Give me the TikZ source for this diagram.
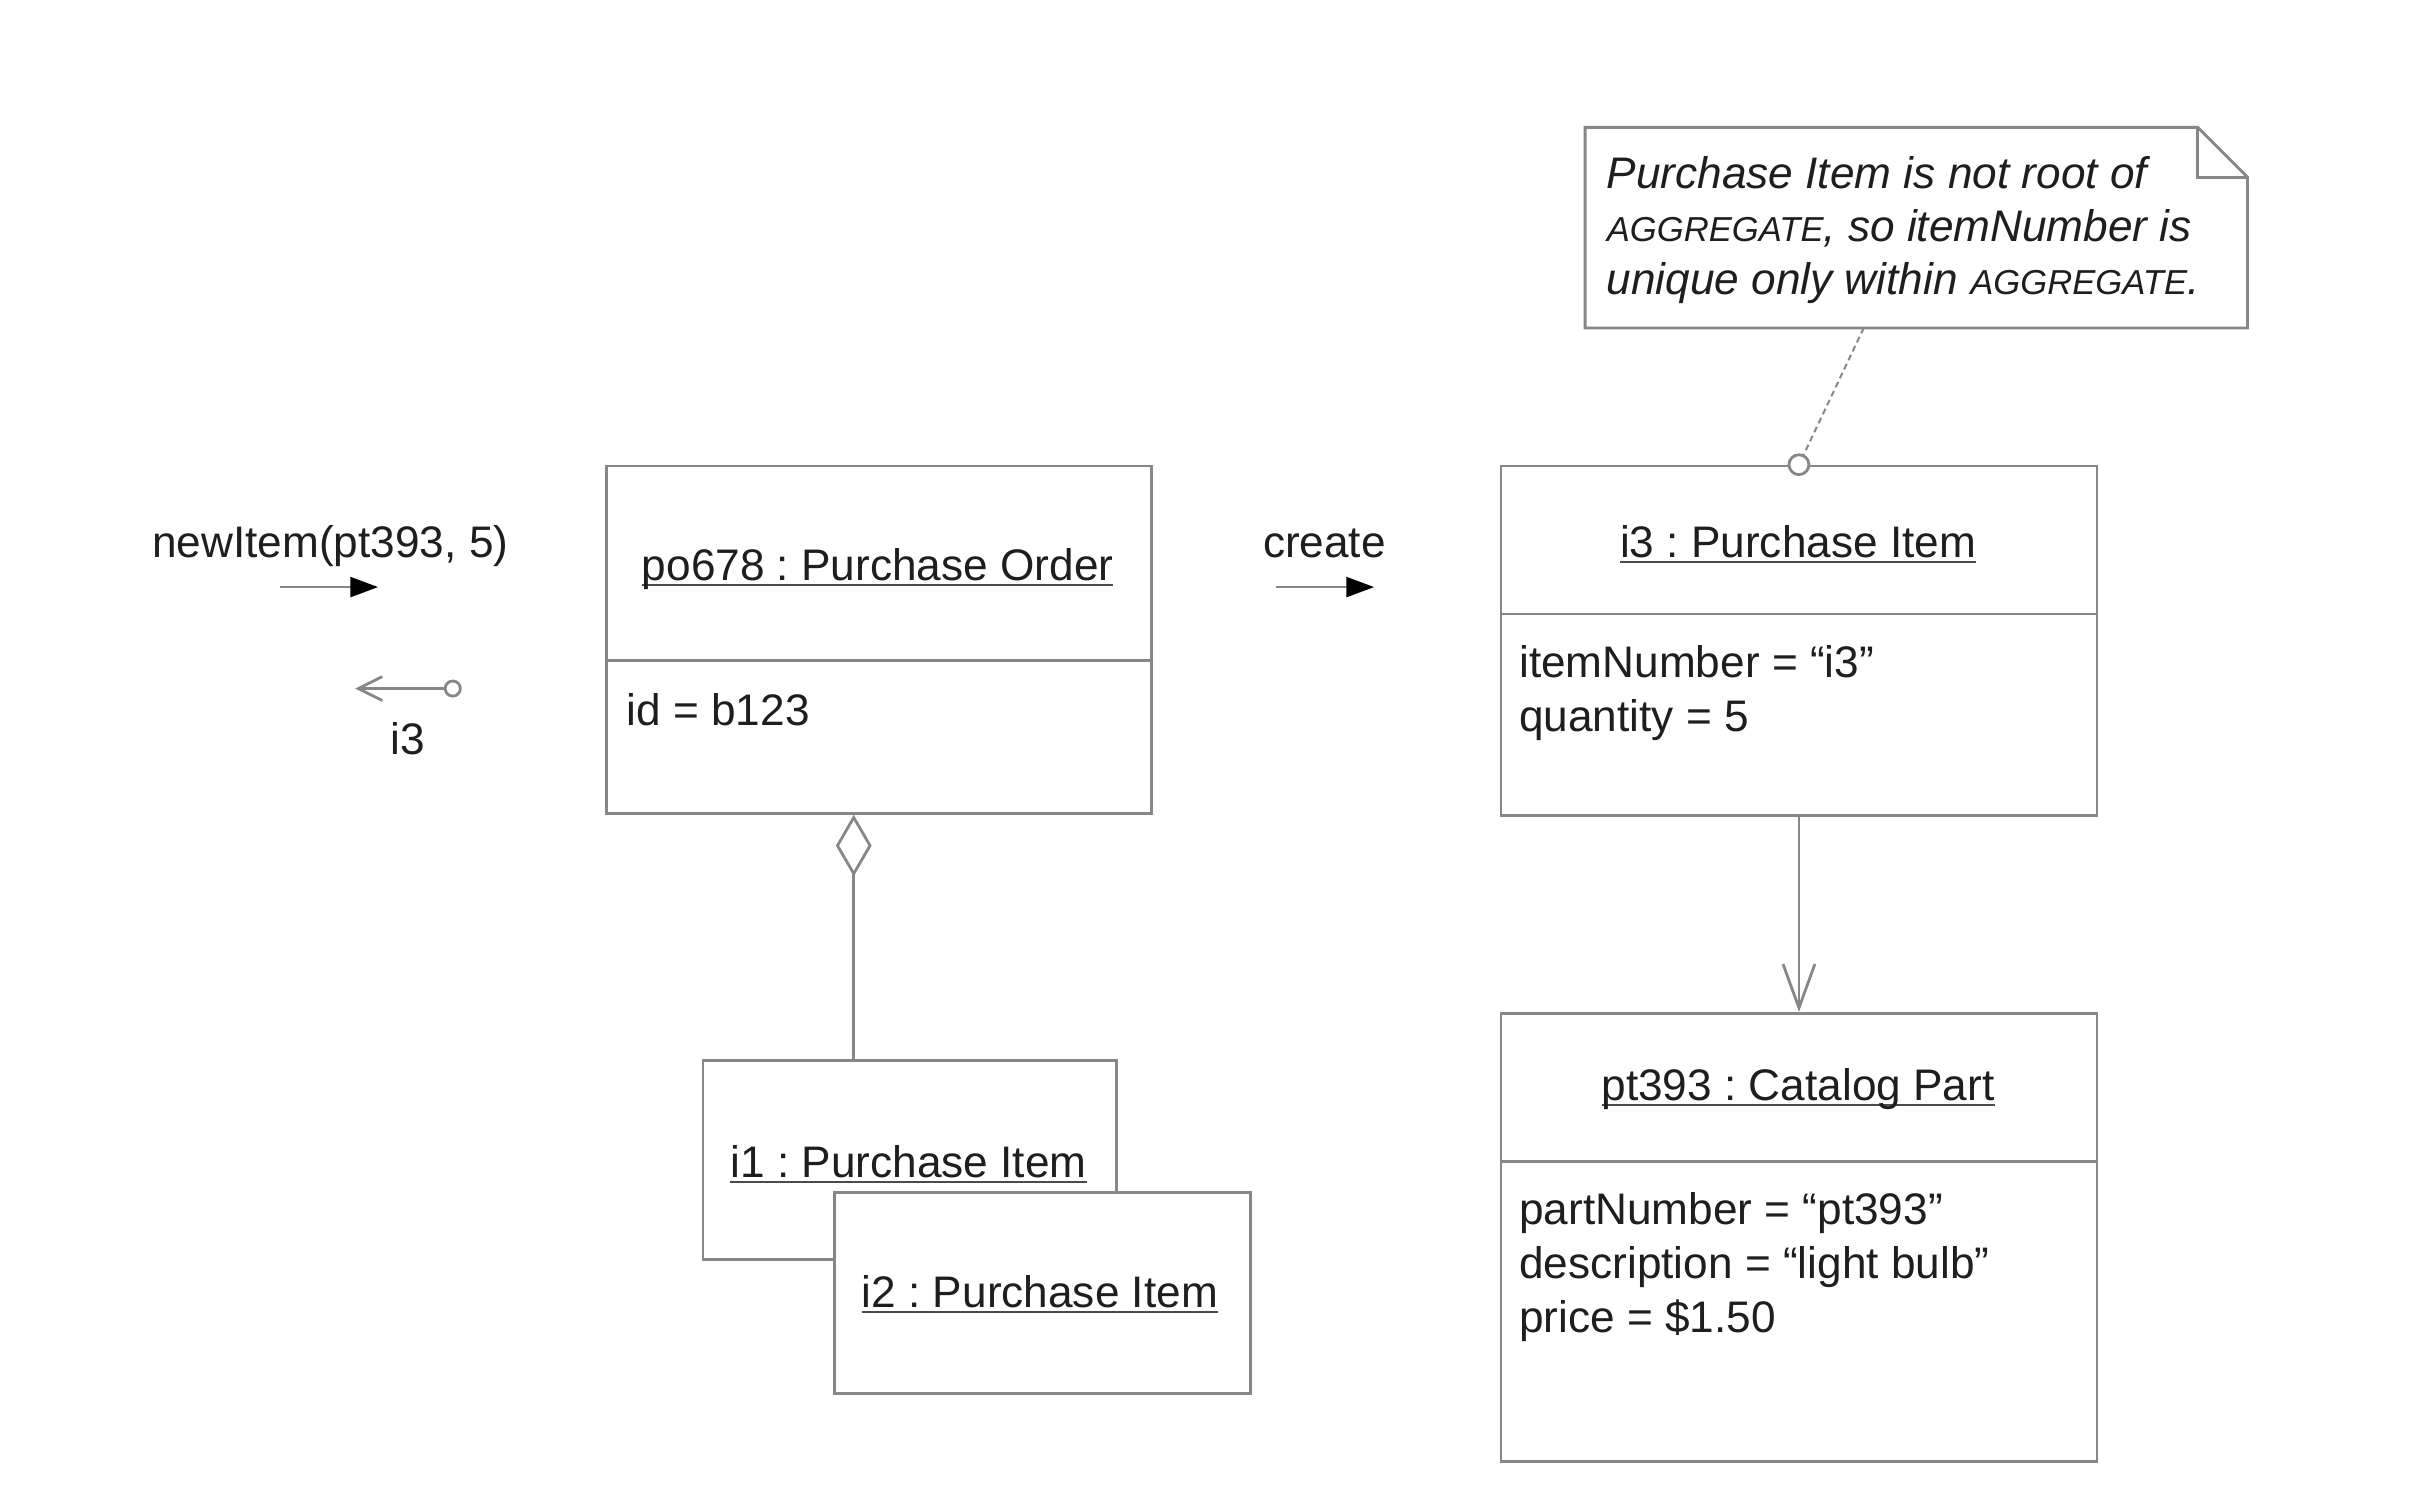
\documentclass[tikz,border=0pt]{standalone}
\usepackage{fontspec}
\setmainfont{Liberation Sans}
\usetikzlibrary{arrows.meta,calc}
\definecolor{boxgray}{RGB}{135,135,135}
\definecolor{txtcol}{RGB}{30,30,30}
\newcommand\myul[1]{\leavevmode\setbox0\hbox{#1}\rlap{\color{txtcol!80!white}\rule[-1.4pt]{\wd0}{0.5pt}}\box0}
\newcommand\aggsc{{\fontsize{8.7}{10}\selectfont AGGREGATE}}
\frenchspacing
\begin{document}
\begin{tikzpicture}[x=0.25pt,y=-0.25pt,
  lc/.style={draw=boxgray,line width=0.7pt},
  obj/.style={lc,fill=white,inner sep=0pt,anchor=north west,rectangle},
  txt/.style={inner sep=0pt,text=txtcol,font=\fontsize{11.1}{13.5}\selectfont},
  ntxt/.style={inner sep=0pt,text=txtcol,anchor=base west,font=\fontsize{11.1}{13.5}\selectfont\itshape},
  msg/.style={draw=boxgray,line width=0.7pt,-{Triangle[length=7pt,width=5pt,color=black]}},
]
\useasboundingbox[fill=white] (0,0) rectangle (2424,1512.5);

% note
\node[inner sep=0pt,anchor=north west,minimum width=166pt,minimum height=50pt] (note) at (1593,128) {};
\draw[lc,fill=white] (note.north west) -- ($(note.north east)+(-50,0)$) -- ($(note.north east)+(0,50)$) -- (note.south east) -- (note.south west) -- cycle;
\draw[lc] ($(note.north east)+(-50,0)$) -- ($(note.north east)+(-50,50)$) -- ($(note.north east)+(0,50)$);
\node[ntxt] (n1) at (1614,189) {Purchase Item is not root of};
\node[ntxt] (n2) at (1614,243) {\aggsc, so itemNumber is};
\node[ntxt] (n3) at (1614,296) {unique only within \aggsc.};

% po678
\node[obj,minimum width=137pt,minimum height=87.25pt] (po) at (608,467) {};
\draw[lc] ($(po.north west)+(0,197)$) -- ($(po.north east)+(0,197)$);
\node[txt,anchor=base] (potitle) at (882,583) {\myul{po678 : Purchase Order}};
\node[txt,anchor=base west] (poid) at (629,729) {id = b123};

% i3
\node[obj,minimum width=149.75pt,minimum height=87.75pt] (i3) at (1507,467) {};
\draw[lc] ($(i3.north west)+(0,150)$) -- ($(i3.north east)+(0,150)$);
\node[txt,anchor=base] (i3title) at (1807,560) {\myul{i3 : Purchase Item}};
\node[txt,anchor=base west] (i3a1) at (1526,681) {itemNumber = “i3”};
\node[txt,anchor=base west] (i3a2) at (1526,735) {quantity = 5};

% pt393
\node[obj,minimum width=149.75pt,minimum height=112.5pt] (pt) at (1507,1017) {};
\draw[lc] ($(pt.north west)+(0,150)$) -- ($(pt.north east)+(0,150)$);
\node[txt,anchor=base] (pttitle) at (1807,1106) {\myul{pt393 : Catalog Part}};
\node[txt,anchor=base west] (pta1) at (1526,1231) {partNumber = “pt393”};
\node[txt,anchor=base west] (pta2) at (1526,1285) {description = “light bulb”};
\node[txt,anchor=base west] (pta3) at (1526,1339) {price = \$1.50};

% i1, i2
\node[obj,minimum width=104pt,minimum height=50pt] (i1) at (705,1064) {};
\node[txt,anchor=base] (i1title) at (913,1183) {\myul{i1 : Purchase Item}};
\node[obj,minimum width=104.5pt,minimum height=50.5pt] (i2) at (837,1197) {};
\node[txt,anchor=base] (i2title) at (1045,1314) {\myul{i2 : Purchase Item}};

% aggregation
\coordinate (aggtop) at ($(po.south west)+(250,0)$);
\draw[lc,{Diamond[open,length=15.5pt,width=9pt]}-] (aggtop) -- (aggtop |- i1.north);

% navigation
\draw[lc,-{Straight Barb[length=11pt,width=8pt]}] (i3.south) -- (pt.north);

% note anchor
\node[circle,lc,fill=white,minimum size=5pt,inner sep=0pt] (anc) at (i3.north) {};
\coordinate (notefoot) at ($(note.south west)+(280,0)$);
\draw[draw=boxgray,line width=0.5pt,dash pattern=on 1.5pt off 1pt] (notefoot) -- (anc);

% messages
\node[txt,anchor=base] (newitem) at (332,560) {newItem(pt393, 5)};
\coordinate (m1s) at (281,590);
\coordinate (m1e) at (380,590);
\draw[msg] (m1s) -- (m1e);

\coordinate (r1s) at (464,692);
\coordinate (r1e) at (357,692);
\draw[lc,{Straight Barb[length=6pt,width=6pt]}-{Circle[open,length=4.5pt,width=4.5pt]}] (r1e) -- (r1s);
\node[txt,anchor=base] (ret) at (410,758) {i3};

\node[txt,anchor=base] (create) at (1331,560) {create};
\coordinate (m2s) at (1282,590);
\coordinate (m2e) at (1381,590);
\draw[msg] (m2s) -- (m2e);
\end{tikzpicture}
\end{document}
